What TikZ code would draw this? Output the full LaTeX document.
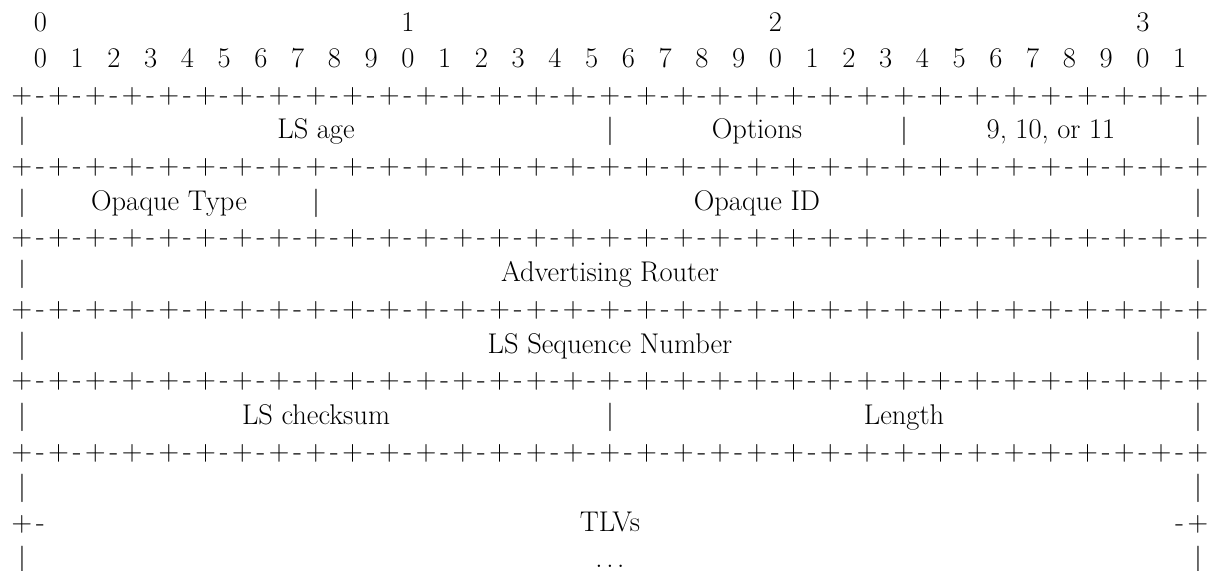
\documentclass[tikz,border=0pt]{standalone}
\newcommand\gridchar[1]{\makebox[18.375pt]{#1}}
\tikzset{
  glyph/.style={font=\fontsize{28.5}{34}\selectfont, inner sep=0pt, anchor=base},
}

\begin{document}
\begin{tikzpicture}[x=18.375pt, y=-35.7pt]
  \useasboundingbox (-22pt,31.7pt) rectangle (1187pt,-538.3pt);
  % bit numbers
  \foreach \t in {0,...,3}
    \node[glyph] (ten\t) at ({20*\t+1},0) {\t};
  \foreach \i in {0,...,31} {
    \pgfmathtruncatemacro\ones{mod(\i,10)}
    \node[glyph] (bit\i) at ({2*\i+1},1) {\ones};
  }
  % separator rows
  \foreach \r in {2,4,...,12}
    \node[glyph] (sep\r) at (32,\r)
      {\gridchar{+}\foreach \k in {1,...,32}{\gridchar{-}\gridchar{+}}};
  % field borders
  \foreach \r/\c in {3/0, 3/32, 3/48, 3/64, 5/0, 5/16, 5/64, 7/0, 7/64,
                     9/0, 9/64, 11/0, 11/32, 11/64, 13/0, 13/64, 15/0, 15/64}
    \node[glyph] (bar\r-\c) at (\c,\r) {|};
  % fields
  \node[glyph] (age) at (16,3) {LS age};
  \node[glyph] (opts) at (40,3) {Options};
  \node[glyph] (ltype) at (56,3) {9, 10, or 11};
  \node[glyph] (otype) at (8,5) {Opaque Type};
  \node[glyph] (oid) at (40,5) {Opaque ID};
  \node[glyph] (router) at (32,7) {Advertising Router};
  \node[glyph] (seq) at (32,9) {LS Sequence Number};
  \node[glyph] (csum) at (16,11) {LS checksum};
  \node[glyph] (len) at (48,11) {Length};
  % open-ended TLV part
  \node[glyph] (lend) at (0.5,14) {\gridchar{+}\gridchar{-}};
  \node[glyph] (rend) at (63.5,14) {\gridchar{-}\gridchar{+}};
  \node[glyph] (tlvs) at (32,14) {TLVs};
  \node[glyph] (more) at (32,15) {$\ldots$};
\end{tikzpicture}
\end{document}
